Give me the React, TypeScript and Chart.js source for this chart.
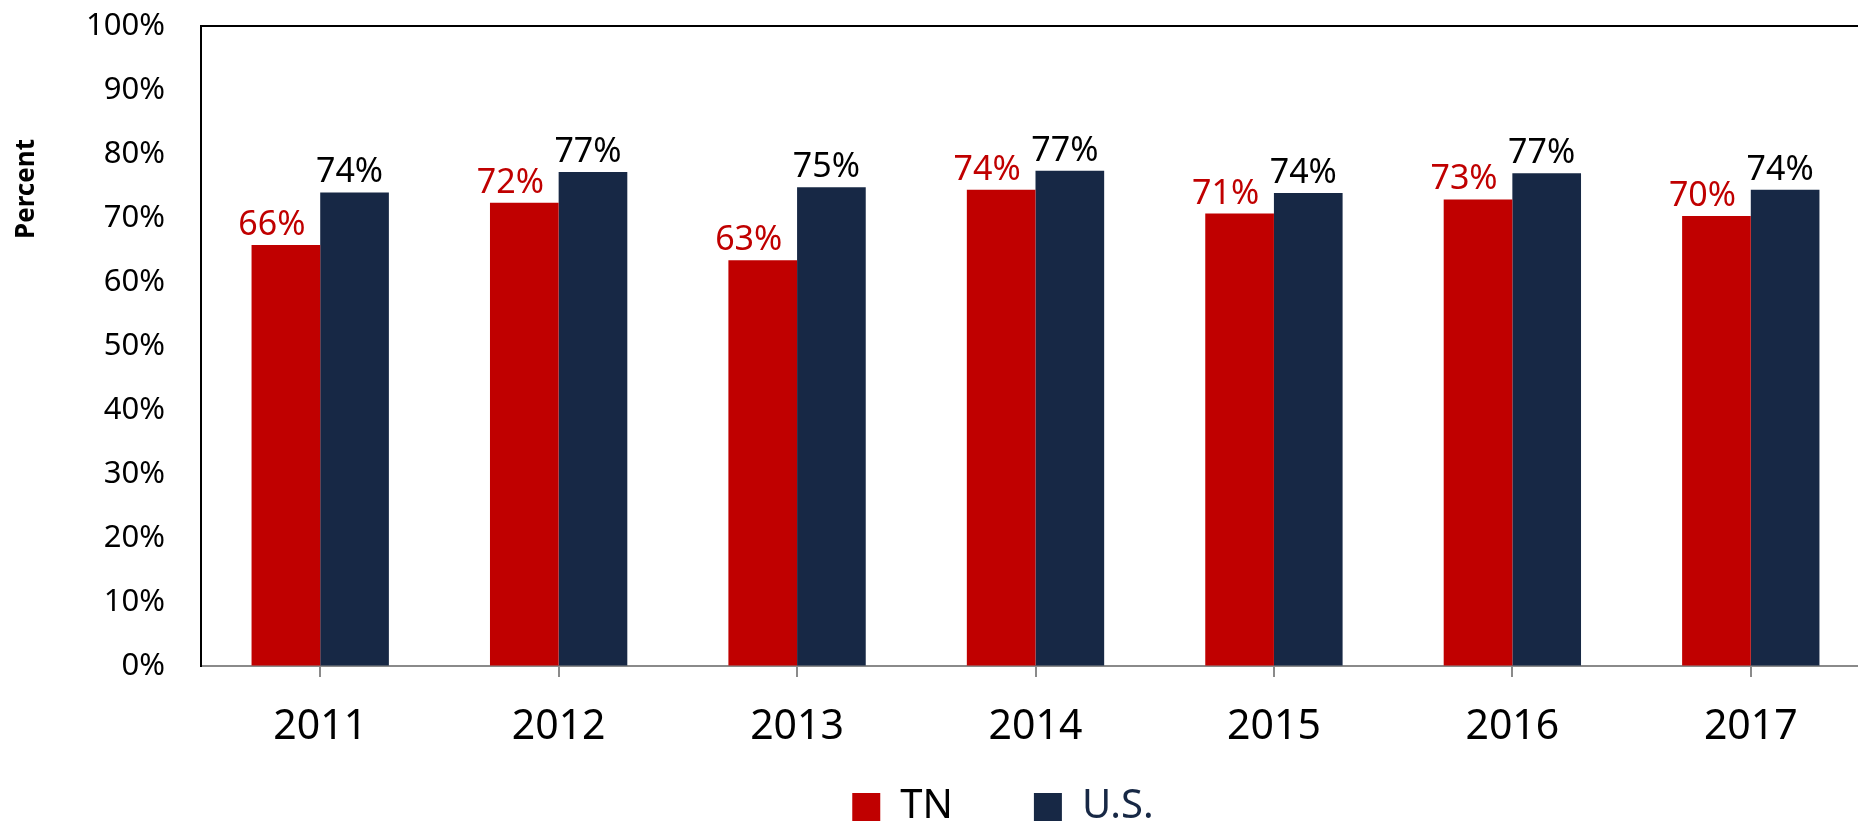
import React, { useEffect, useRef } from 'react';
import { Chart, registerables } from 'chart.js';

Chart.register(...registerables);

// ---- Data ----
const years = ['2011', '2012', '2013', '2014', '2015', '2016', '2017'];
const seriesNames = ['TN', 'U.S.'];
const tnValues = [65.8, 72.4, 63.4, 74.4, 70.7, 72.9, 70.3];
const usValues = [74.0, 77.2, 74.8, 77.4, 73.9, 77.0, 74.4];
const yAxisTitle = 'Percent';
const yMin = 0;
const yMax = 100;
const yStep = 10;

// ---- Styles ----
const TN_COLOR = '#C00000';
const US_COLOR = '#172845';
const FONT = '"Noto Sans", "DejaVu Sans", sans-serif';
const legendTextColors = ['#000000', US_COLOR];
const labelColors = [TN_COLOR, '#000000'];
const labelDx = [-14, -5];

const CANVAS_W = 1870;
const CANVAS_H = 897;
const LEGEND_SHIFT_X = 68;
const LEGEND_SHIFT_Y = -60;

const dataLabelPlugin = {
  id: 'dataLabels',
  afterDatasetsDraw(chart: any) {
    const ctx = chart.ctx;
    chart.data.datasets.forEach((ds: any, i: number) => {
      const meta = chart.getDatasetMeta(i);
      meta.data.forEach((bar: any, j: number) => {
        const v = ds.data[j] as number;
        ctx.save();
        ctx.font = `34px ${FONT}`;
        ctx.fillStyle = labelColors[i];
        ctx.textAlign = 'center';
        ctx.textBaseline = 'alphabetic';
        ctx.fillText(`${Math.round(v)}%`, bar.x + labelDx[i], bar.y - 10);
        ctx.restore();
      });
    });
  },
};

const yTitlePlugin = {
  id: 'yTitle',
  afterDraw(chart: any) {
    const ctx = chart.ctx;
    ctx.save();
    ctx.translate(27, 189);
    ctx.rotate(-Math.PI / 2);
    ctx.font = `bold 26px ${FONT}`;
    ctx.fillStyle = '#000';
    ctx.textAlign = 'center';
    ctx.textBaseline = 'middle';
    ctx.fillText(yAxisTitle, 0, 0);
    ctx.restore();
  },
};

const legendShiftPlugin = {
  id: 'legendShift',
  afterLayout(chart: any) {
    const lg = chart.legend;
    if (!lg) return;
    lg.left += LEGEND_SHIFT_X;
    lg.right += LEGEND_SHIFT_X;
    lg.top += LEGEND_SHIFT_Y;
    lg.bottom += LEGEND_SHIFT_Y;
  },
};

export default function App() {
  const ref = useRef<HTMLCanvasElement | null>(null);

  useEffect(() => {
    if (!ref.current) return;
    const chart = new Chart(ref.current, {
      type: 'bar',
      data: {
        labels: years,
        datasets: [
          {
            label: seriesNames[0],
            data: tnValues,
            backgroundColor: TN_COLOR,
            categoryPercentage: 0.576,
            barPercentage: 1,
          },
          {
            label: seriesNames[1],
            data: usValues,
            backgroundColor: US_COLOR,
            categoryPercentage: 0.576,
            barPercentage: 1,
          },
        ],
      },
      options: {
        responsive: false,
        animation: false,
        layout: { padding: { top: 26, left: 0, right: 0, bottom: 0 } },
        plugins: {
          tooltip: { enabled: false },
          legend: {
            display: true,
            position: 'bottom',
            labels: {
              boxWidth: 28,
              boxHeight: 28,
              padding: 81,
              font: { family: FONT, size: 40 },
              generateLabels: (c: any) => {
                const items = (Chart.defaults.plugins.legend.labels as any).generateLabels(c);
                items.forEach((it: any, i: number) => {
                  it.fontColor = legendTextColors[i];
                  it.lineWidth = 0;
                });
                return items;
              },
            },
          },
        },
        scales: {
          x: {
            position: 'bottom',
            grid: {
              display: true,
              drawOnChartArea: false,
              offset: false,
              tickLength: 11,
              color: '#8a8a8a',
              lineWidth: 2,
            },
            border: { display: true, color: '#8a8a8a', width: 2 },
            ticks: {
              font: { family: FONT, size: 41 },
              color: '#000',
              padding: 26,
              maxRotation: 0,
            },
            afterFit: (s: any) => {
              s.height = 100;
            },
          },
          xTop: {
            type: 'category',
            position: 'top',
            grid: { display: true, drawOnChartArea: false, drawTicks: false },
            ticks: { display: false },
            border: { display: true, color: '#000', width: 2 },
            afterFit: (s: any) => {
              s.height = 0;
              s.paddingLeft = 0;
              s.paddingRight = 0;
            },
          },
          y: {
            min: yMin,
            max: yMax,
            grid: { display: true, drawOnChartArea: false, drawTicks: false },
            border: { display: true, color: '#000', width: 2 },
            ticks: {
              stepSize: yStep,
              callback: (v: any) => `${v}%`,
              font: { family: FONT, size: 31 },
              color: '#000',
              padding: 36,
            },
            afterFit: (s: any) => {
              s.width = 201;
              s.paddingTop = 0;
              s.paddingBottom = 0;
            },
          },
        },
      } as any,
      plugins: [dataLabelPlugin, yTitlePlugin, legendShiftPlugin],
    });
    return () => chart.destroy();
  }, []);

  return (
    <div
      style={{
        position: 'fixed',
        left: 0,
        top: 0,
        width: 1858,
        height: 823,
        overflow: 'hidden',
        background: '#fff',
      }}
    >
      <canvas
        ref={ref}
        width={CANVAS_W}
        height={CANVAS_H}
        style={{ display: 'block', width: CANVAS_W, height: CANVAS_H }}
      />
    </div>
  );
}
